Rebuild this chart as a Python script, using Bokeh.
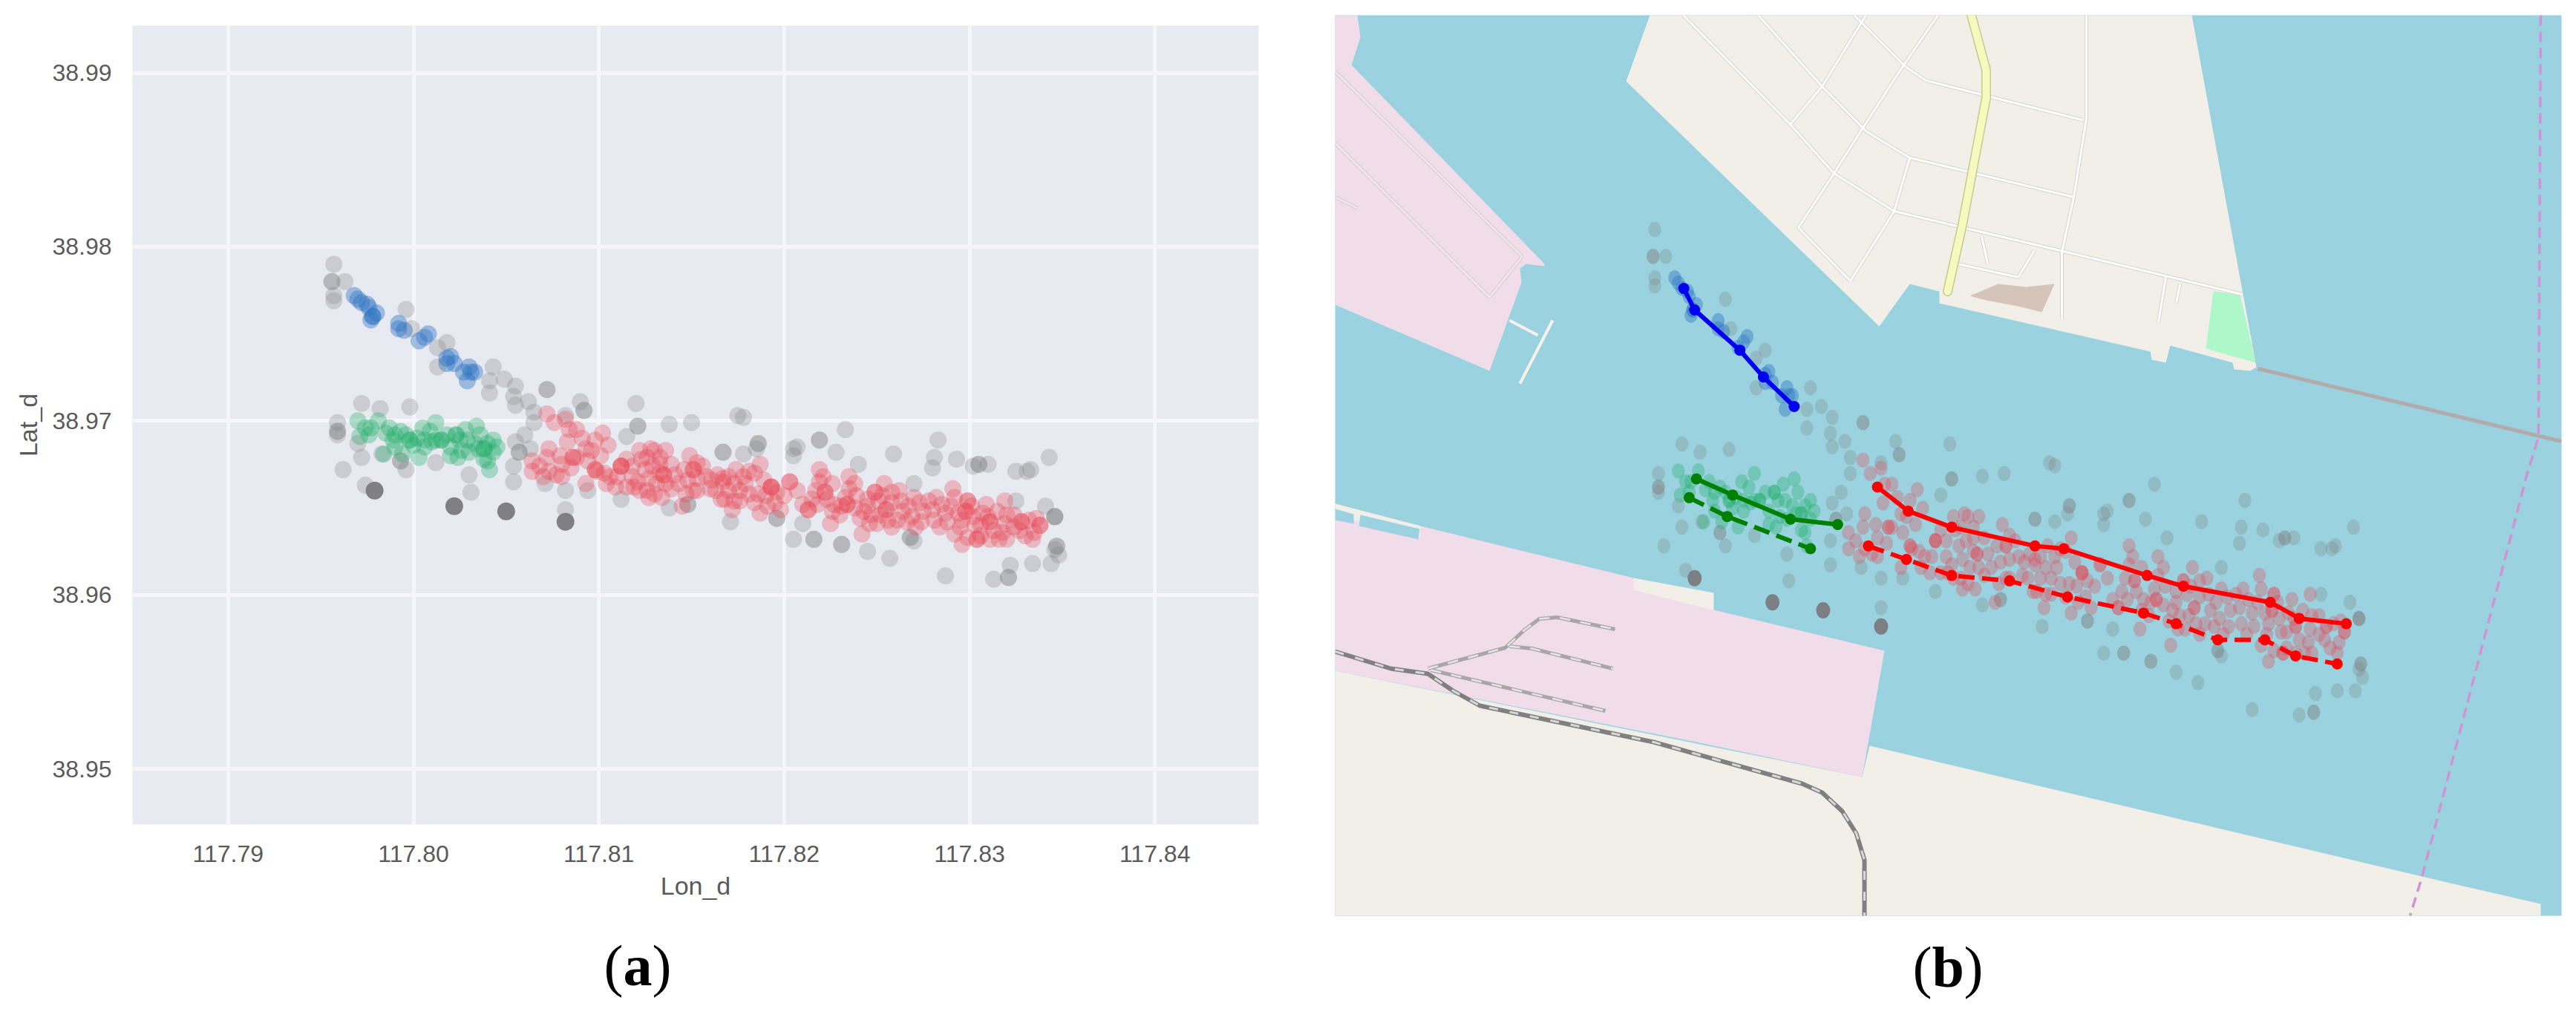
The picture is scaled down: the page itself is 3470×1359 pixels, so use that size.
from bokeh.embed import file_html
from bokeh.resources import INLINE
from bokeh.plotting import figure
from bokeh.layouts import row, column
from bokeh.core.properties import value
from bokeh.models import Range1d, FixedTicker, NumeralTickFormatter

# ---------- tick labels ----------
lon_ticks = [117.79, 117.80, 117.81, 117.82, 117.83, 117.84]
lat_ticks = [38.95, 38.96, 38.97, 38.98, 38.99]

# ---------- noise points (grey) ----------
grey_lon = [117.7957,117.7956,117.7956,117.7963,117.7957,117.7957,117.7996,117.7999,117.8018,117.8013,117.8013,117.8043,
 117.8049,117.8041,117.8041,117.8055,117.8054,117.8055,117.8062,117.8072,117.8072,117.8065,117.8065,117.8060,117.8055,
 117.8057,117.8057,117.8063,117.8090,117.8092,117.8092,117.8082,117.8120,117.8121,117.8121,117.8115,117.8138,117.8150,
 117.8175,117.8167,117.8167,117.7972,117.7982,117.7998,117.7959,117.7959,117.7959,117.7959,117.7970,117.7972,117.7983,
 117.7993,117.7993,117.7996,117.8012,117.8030,117.8031,117.8054,117.8054,117.7962,117.7974,117.8071,117.8082,117.8094,
 117.8112,117.8138,117.8148,117.8148,117.8171,117.8082,
 117.8178,117.8186,117.8186,117.8185,117.8178,117.8205,117.8207,117.8205,117.8219,117.8219,117.8233,117.8228,117.8240,
 117.8259,117.8283,117.8281,117.8280,117.8293,117.8302,117.8305,117.8305,117.8310,117.8325,117.8331,117.8333,117.8343,
 117.8270,117.8325,117.8341,117.8346,117.8346,117.8346,117.8347,117.8347,117.8346,117.8348,117.8196,117.8196,117.8210,
 117.8205,117.8216,117.8216,117.8231,117.8231,117.8245,117.8257,117.8268,117.8268,117.8270,117.8287,117.8313,117.8321,
 117.8321,117.8322,117.8334,117.8344]
grey_lat = [38.9790,38.9780,38.9780,38.9780,38.9772,38.9769,38.9764,38.9753,38.9745,38.9742,38.9731,38.9731,
 38.9724,38.9723,38.9716,38.9720,38.9714,38.9709,38.9711,38.9718,38.9718,38.9705,38.9699,38.9692,38.9688,
 38.9682,38.9682,38.9684,38.9711,38.9706,38.9706,38.9703,38.9710,38.9697,38.9697,38.9691,38.9698,38.9699,
 38.9703,38.9682,38.9682,38.9710,38.9707,38.9708,38.9699,38.9694,38.9694,38.9692,38.9687,38.9679,38.9681,
 38.9677,38.9677,38.9672,38.9676,38.9669,38.9659,38.9674,38.9665,38.9672,38.9663,38.9664,38.9660,38.9660,
 38.9655,38.9650,38.9652,38.9652,38.9642,38.9649,
 38.9702,38.9687,38.9687,38.9684,38.9681,38.9684,38.9685,38.9680,38.9689,38.9689,38.9695,38.9682,38.9675,
 38.9681,38.9689,38.9679,38.9673,38.9678,38.9674,38.9675,38.9675,38.9675,38.9671,38.9671,38.9672,38.9679,
 38.9664,38.9654,38.9651,38.9645,38.9645,38.9645,38.9628,38.9628,38.9626,38.9623,38.9644,38.9644,38.9641,
 38.9632,38.9632,38.9632,38.9629,38.9629,38.9625,38.9621,38.9633,38.9633,38.9631,38.9611,38.9609,38.9610,
 38.9610,38.9617,38.9618,38.9618]

# ---------- dark points ----------
dark_lon = [117.7979, 117.8022, 117.8050, 117.8082]
dark_lat = [38.9660, 38.9651, 38.9648, 38.9642]

# ---------- red cluster ----------
red_lon = [117.8072,117.8076,117.8082,117.8088,117.8084,117.8102,117.8098,117.8105,117.8073,117.8072,117.8064,117.8064,
 117.8073,117.8077,117.8086,117.8086,117.8088,117.8093,117.8096,117.8098,117.8098,117.8099,117.8104,117.8112,117.8112,
 117.8112,117.8122,117.8123,117.8125,117.8121,117.8122,117.8130,117.8136,117.8129,117.8135,117.8135,117.8131,117.8136,
 117.8130,117.8149,117.8151,117.8151,117.8153,117.8156,117.8151,117.8145,117.8167,117.8167,117.8173,117.8173,117.8168,
 117.8174,117.8176,117.8127,117.8133,117.8141,117.8118,117.8093,117.8109,
 117.8181,117.8187,117.8189,117.8181,117.8193,117.8193,117.8193,117.8186,117.8203,117.8203,117.8191,117.8198,117.8219,
 117.8219,117.8222,117.8222,117.8223,117.8213,117.8213,117.8225,117.8235,117.8235,117.8234,117.8234,117.8231,117.8243,
 117.8249,117.8249,117.8254,117.8258,117.8251,117.8255,117.8255,117.8263,117.8267,117.8250,117.8246,117.8242,117.8258,
 117.8266,117.8282,117.8280,117.8284,117.8291,117.8290,117.8299,117.8299,117.8298,117.8298,117.8295,117.8296,117.8304,
 117.8304,117.8311,117.8311,117.8316,117.8310,117.8319,117.8328,117.8328,117.8338,117.8338,117.8334,117.8324,117.8275,
 117.8271,117.8306,117.8319,117.8302,117.8320,117.8311,
 117.8179,117.8184,117.8190,117.8184,117.8196,117.8200,117.8187,117.8195,117.8207,117.8210,117.8215,117.8217,117.8226,
 117.8221,117.8227,117.8218,117.8226,117.8233,117.8238,117.8239,117.8238,117.8230,117.8245,117.8245,117.8241,117.8247,
 117.8253,117.8258,117.8252,117.8256,117.8262,117.8264,117.8261,117.8270,117.8273,117.8269,117.8274,117.8278,117.8285,
 117.8287,117.8281,117.8288,117.8292,117.8294,117.8292,117.8296,117.8301,117.8303,117.8299,117.8307,117.8309,117.8306,
 117.8313,117.8315,117.8318,117.8320,117.8324,117.8327,117.8332,117.8335,117.8336,117.8330,
 117.8068,117.8070,117.8080,117.8079,117.8080,117.8085,117.8083,117.8091,117.8094,117.8101,117.8103,117.8106,117.8110,
 117.8115,117.8118,117.8119,117.8115,117.8126,117.8126,117.8128,117.8133,117.8133,117.8127,117.8134,117.8139,117.8139,
 117.8143,117.8146,117.8148,117.8147,117.8153,117.8153,117.8158,117.8161,117.8160,117.8164,117.8163,117.8170,117.8170,
 117.8166,117.8178,117.8176,117.8172]
red_lat = [38.9704,38.9699,38.9701,38.9695,38.9695,38.9693,38.9689,38.9686,38.9684,38.9679,38.9677,38.9671,
 38.9671,38.9669,38.9679,38.9679,38.9679,38.9684,38.9683,38.9672,38.9672,38.9671,38.9664,38.9674,38.9674,
 38.9674,38.9683,38.9678,38.9672,38.9665,38.9660,38.9683,38.9683,38.9674,38.9669,38.9669,38.9664,38.9664,
 38.9658,38.9680,38.9672,38.9672,38.9667,38.9674,38.9660,38.9651,38.9667,38.9665,38.9664,38.9654,38.9655,
 38.9672,38.9660,38.9667,38.9675,38.9669,38.9668,38.9664,38.9662,
 38.9671,38.9675,38.9666,38.9658,38.9662,38.9662,38.9662,38.9658,38.9665,38.9665,38.9651,38.9649,38.9672,
 38.9665,38.9659,38.9659,38.9655,38.9649,38.9649,38.9641,38.9668,38.9661,38.9652,38.9652,38.9651,38.9648,
 38.9659,38.9659,38.9664,38.9659,38.9654,38.9649,38.9649,38.9654,38.9651,38.9641,38.9641,38.9635,38.9639,
 38.9642,38.9656,38.9649,38.9639,38.9661,38.9651,38.9654,38.9654,38.9648,38.9648,38.9639,38.9629,38.9632,
 38.9632,38.9642,38.9642,38.9632,38.9645,38.9654,38.9642,38.9642,38.9640,38.9640,38.9632,38.9639,38.9648,
 38.9639,38.9634,38.9641,38.9645,38.9632,38.9632,
 38.9664,38.9670,38.9657,38.9653,38.9659,38.9657,38.9647,38.9653,38.9660,38.9652,38.9655,38.9660,38.9664,
 38.9668,38.9652,38.9652,38.9648,38.9656,38.9664,38.9657,38.9650,38.9646,38.9655,38.9651,38.9644,38.9646,
 38.9657,38.9653,38.9646,38.9643,38.9660,38.9648,38.9643,38.9656,38.9653,38.9645,38.9642,38.9654,38.9652,
 38.9647,38.9643,38.9642,38.9656,38.9647,38.9635,38.9643,38.9651,38.9640,38.9633,38.9647,38.9652,38.9640,
 38.9637,38.9648,38.9636,38.9646,38.9646,38.9637,38.9643,38.9636,38.9644,38.9634,
 38.9674,38.9668,38.9675,38.9680,38.9668,38.9673,38.9688,38.9690,38.9677,38.9680,38.9670,38.9668,38.9668,
 38.9678,38.9674,38.9662,38.9662,38.9660,38.9679,38.9684,38.9679,38.9670,38.9656,38.9656,38.9675,38.9661,
 38.9664,38.9672,38.9666,38.9658,38.9676,38.9660,38.9668,38.9666,38.9661,38.9669,38.9660,38.9668,38.9660,
 38.9655,38.9668,38.9654,38.9649]

# ---------- green cluster ----------
green_lon = [117.7970,117.7974,117.7981,117.7976,117.7987,117.7990,117.7998,117.7998,117.8002,117.8005,117.8012,117.8015,
 117.8015,117.8023,117.8023,117.8025,117.8024,117.8020,117.8034,117.8033,117.8038,117.8038,117.8043,117.8043,117.8038,
 117.8041,117.8003,117.7984,117.7994,117.8012,117.7989,117.8009,117.8029,117.8035,117.8040,117.7971,
 117.7977,117.7985,117.7993,117.7996,117.8000,117.8006,117.8006,117.8010,117.8018,117.8020,117.8026,117.8030,117.8036,
 117.8040,117.8045,117.8028,117.7990]
green_lat = [38.9700,38.9696,38.9700,38.9692,38.9696,38.9692,38.9689,38.9689,38.9690,38.9696,38.9699,38.9689,
 38.9689,38.9692,38.9692,38.9689,38.9679,38.9680,38.9697,38.9687,38.9684,38.9684,38.9689,38.9682,38.9678,
 38.9672,38.9679,38.9681,38.9681,38.9689,38.9689,38.9694,38.9689,38.9684,38.9687,38.9691,
 38.9696,38.9693,38.9694,38.9692,38.9686,38.9689,38.9685,38.9688,38.9692,38.9685,38.9683,38.9682,38.9692,
 38.9677,38.9685,38.9695,38.9685]

# ---------- blue cluster ----------
blue_lon = [117.7968,117.7970,117.7975,117.7976,117.7978,117.7978,117.7977,117.7992,117.7992,117.8003,117.8008,117.8018,
 117.8018,117.8022,117.8030,117.8031,117.8029,117.8033,117.7972,117.7980,117.7995,117.8006,117.8020,117.8027]
blue_lat = [38.9772,38.9770,38.9767,38.9765,38.9760,38.9760,38.9758,38.9756,38.9753,38.9746,38.9750,38.9736,
 38.9733,38.9733,38.9731,38.9728,38.9723,38.9728,38.9768,38.9762,38.9752,38.9748,38.9737,38.9728]

# ---------- tracks on map ----------
blue_track_lon = [117.7973,117.7979,117.8004,117.8017,117.8034]
blue_track_lat = [38.9768,38.9760,38.9745,38.9735,38.9724]
green_solid_lon = [117.7980,117.8000,117.8032,117.8058]
green_solid_lat = [38.9697,38.9691,38.9682,38.9680]
green_dash_lon = [117.7976,117.7997,117.8043]
green_dash_lat = [38.9690,38.9683,38.9671]
red_solid_lon = [117.8080,117.8097,117.8121,117.8167,117.8183,117.8229,117.8249,117.8297,117.8313,117.8339]
red_solid_lat = [38.9694,38.9685,38.9679,38.9672,38.9671,38.9661,38.9657,38.9651,38.9645,38.9643]
red_dash_lon = [117.8075,117.8096,117.8121,117.8153,117.8185,117.8227,117.8245,117.8268,117.8294,117.8311,117.8334]
red_dash_lat = [38.9672,38.9667,38.9661,38.9659,38.9653,38.9647,38.9643,38.9637,38.9637,38.9631,38.9628]

# ---------- base map outlines, in the map panel's own picture coordinates ----------
pink_nw_x = [1798,1828,1832,1820,2080,2080,2055,2047,2049,2006,1798]
pink_nw_y = [20,20,50,87,355,358,355,361,380,499,410]
land_n_x = [2190,2222,2952,3039,3031,3009,3007,2923,2917,2898,2896,2612,2612,2572,2531]
land_n_y = [109,20,20,494,499,497,488,465,488,484,473,408,392,382,439]
park_x = [2981,3017,3038,2971]
park_y = [392,396,488,469]
blob_x = [2653,2691,2729,2767,2750,2718,2675]
blob_y = [398,382,386,382,420,412,404]
pink_s_x = [1798,1913,2200,2308,2538,2508,2280,1798]
pink_s_y = [678,708,778,821,876,1046,998,903]
land_s_x = [1798,2508,2518,3300,3422,3422,1798]
land_s_y = [903,1046,1004,1189,1217,1233,1233]
strip_x = [2200,2308,2308,2200]
strip_y = [778,798,821,794]
wharf_x = [1798,1913,1913,1798]
wharf_y = [678,708,723,693]
basin1_x = [1798,1823,1823,1798]
basin1_y = [685,692,705,700]
basin2_x = [1832,1912,1910,1830]
basin2_y = [693,712,726,708]
roads_x = [[2267,2411,2470,2551,2783,3020],[2368,2454,2513,2572,2793],[2497,2567,2594,2804],
           [2610,2562,2508,2470,2422,2492],[2513,2454,2411],[2572,2551,2492],[2810,2810,2793,2777,2777],
           [2637,2718,2740],[2669,2677],[2917,2907],[2936,2931]]
roads_y = [[20,167,233,284,339,396],[20,116,176,212,265],[20,90,108,161],
           [20,90,173,233,306,378],[20,116,167],[212,284,378],[20,159,265,339,429],
           [355,373,337],[318,355],[373,433],[382,408]]
dock_roads_x = [[1798,2050,2006,1798],[1798,1828]]
dock_roads_y = [[96,345,400,192],[265,280]]
yellow_x = [2655,2675,2675,2643,2623]
yellow_y = [20,94,131,302,392]
rail_x = [1798,1873,1923,1957,1993,2227,2427,2454,2481,2500,2511,2511]
rail_y = [877,900,907,930,950,999,1055,1067,1092,1122,1158,1233]
sidings_x = [[1923,2027,2053,2073,2097,2175],[2033,2063,2172],[1927,2162]]
sidings_y = [[900,872,848,833,831,847],[870,873,900],[902,957]]
grey_rail_x = [3041,3450]
grey_rail_y = [496,594]
border_x = [3422,3419,3403,3262,3246]
border_y = [20,588,640,1181,1233]
pier_x = [[2033,2071],[2091,2047]]
pier_y = [[431,451],[431,516]]

# ---------- captions ----------
cap_open = ["(", "("]
cap_letter = ["a", "b"]
cap_close = [")", ")"]
cap_open_x = [813, 2576]
cap_letter_x = [839, 2602]
cap_close_x = [878, 2645]
cap_y = [60, 62]

FONT = "Liberation Sans"
TXT = "#5a5a5a"
GREY = "#7f7f7f"
DARK = "#808084"
RED = "#e8434f"
GREEN = "#1fae66"
BLUE = "#2f74c4"
LAND = "#F2EFE9"
PINK = "#F1DDEA"
WATER = "#9AD3DF"
S = 23

# ---------- panel (a) ----------
a = figure(width=1790, height=1240, output_backend="svg", toolbar_location=None,
           x_range=Range1d(117.78484, 117.84560), y_range=Range1d(38.94681, 38.99271),
           x_axis_label="Lon_d", y_axis_label="Lat_d",
           min_border_left=178, min_border_right=95, min_border_top=34, min_border_bottom=130,
           background_fill_color="#E8EAF2", border_fill_color="white", outline_line_color=None)
a.frame_align = False
a.xaxis.ticker = FixedTicker(ticks=lon_ticks)
a.yaxis.ticker = FixedTicker(ticks=lat_ticks)
a.xaxis.formatter = NumeralTickFormatter(format="0.00")
a.yaxis.formatter = NumeralTickFormatter(format="0.00")
for ax in (a.xaxis[0], a.yaxis[0]):
    ax.axis_line_color = None
    ax.major_tick_line_color = None
    ax.minor_tick_line_color = None
    ax.major_label_text_font = FONT
    ax.major_label_text_font_size = "32px"
    ax.major_label_text_color = TXT
    ax.axis_label_text_font = FONT
    ax.axis_label_text_font_size = "34px"
    ax.axis_label_text_font_style = "normal"
    ax.axis_label_text_color = TXT
a.xaxis.major_label_standoff = 22
a.yaxis.major_label_standoff = 22
a.xaxis.axis_label_standoff = 10
a.yaxis.axis_label_standoff = 10
a.grid.grid_line_color = "#F5F6FA"
a.grid.grid_line_width = 5

a.scatter(grey_lon, grey_lat, size=S, color=GREY, alpha=0.27, line_color=None)
a.scatter(red_lon, red_lat, size=S, color=RED, alpha=0.3, line_color=None)
a.scatter(green_lon, green_lat, size=S, color=GREEN, alpha=0.33, line_color=None)
a.scatter(blue_lon, blue_lat, size=S, color=BLUE, alpha=0.42, line_color=None)
a.scatter(dark_lon, dark_lat, size=24, color=DARK, alpha=1.0, line_color=None)

# ---------- panel (b) ----------
b = figure(width=1670, height=1240, output_backend="svg", toolbar_location=None,
           x_range=Range1d(117.77804, 117.84579), y_range=Range1d(38.95341, 38.98699),
           x_axis_type=None, y_axis_type=None,
           min_border_left=8, min_border_right=10, min_border_top=20, min_border_bottom=7,
           background_fill_color=WATER, border_fill_color="white", outline_line_color=None)
b.frame_align = False
b.grid.visible = False
b.extra_x_ranges = {"page": Range1d(1798, 3450)}
b.extra_y_ranges = {"page": Range1d(1233, 20)}
M = dict(x_range_name="page", y_range_name="page")

b.patch(land_n_x, land_n_y, color=LAND, line_color=None, **M)
b.patch(pink_nw_x, pink_nw_y, color=PINK, line_color=None, **M)
b.patch(land_s_x, land_s_y, color=LAND, line_color=None, **M)
b.patch(pink_s_x, pink_s_y, color=PINK, line_color=None, **M)
b.patch(strip_x, strip_y, color=LAND, line_color=None, **M)
b.patch(wharf_x, wharf_y, color=LAND, line_color=None, **M)
b.patch(basin1_x, basin1_y, color=WATER, line_color=None, **M)
b.patch(basin2_x, basin2_y, color=WATER, line_color=None, **M)
b.patch(park_x, park_y, color="#ADF7C9", line_color=None, **M)
b.patch(blob_x, blob_y, color="#D5C4BA", line_color=None, **M)
b.multi_line(roads_x, roads_y, line_color="#D6D3CF", line_width=5, **M)
b.multi_line(roads_x, roads_y, line_color="#FFFFFF", line_width=3, **M)
b.multi_line(dock_roads_x, dock_roads_y, line_color="#D5D0D3", line_width=5, **M)
b.multi_line(dock_roads_x, dock_roads_y, line_color="#F4E6EF", line_width=2.5, **M)
b.multi_line(pier_x, pier_y, line_color="#F6F2EA", line_width=4, **M)
b.line(yellow_x, yellow_y, line_color="#C9C98F", line_width=13, line_cap="round", **M)
b.line(yellow_x, yellow_y, line_color="#F7FABF", line_width=10, line_cap="round", **M)
b.line(grey_rail_x, grey_rail_y, line_color="#B2ABAB", line_width=5, **M)
b.line(border_x, border_y, line_color="#CF93D6", line_width=3.5, line_dash="14 8", **M)
b.multi_line(sidings_x, sidings_y, line_color="#A9A6A8", line_width=5, **M)
b.multi_line(sidings_x, sidings_y, line_color="#E8E5E6", line_width=2.5, line_dash="14 14", **M)
b.line(rail_x, rail_y, line_color="#808080", line_width=6, **M)
b.line(rail_x, rail_y, line_color="#D8D8D8", line_width=3, line_dash="12 16", **M)

E = dict(width=17.5, height=20.5, width_units="screen", height_units="screen", line_color=None)
b.ellipse(grey_lon, grey_lat, fill_color=GREY, fill_alpha=0.27, **E)
b.ellipse(red_lon, red_lat, fill_color=RED, fill_alpha=0.3, **E)
b.ellipse(green_lon, green_lat, fill_color=GREEN, fill_alpha=0.33, **E)
b.ellipse(blue_lon, blue_lat, fill_color=BLUE, fill_alpha=0.42, **E)
b.ellipse(dark_lon, dark_lat, fill_color="#7c7f84", width=19, height=22,
          width_units="screen", height_units="screen", line_color=None)

tracks = [(blue_track_lon, blue_track_lat, "#0000F0", "solid"),
          (green_solid_lon, green_solid_lat, "#008000", "solid"),
          (green_dash_lon, green_dash_lat, "#008000", "22 10"),
          (red_solid_lon, red_solid_lat, "#FF0000", "solid"),
          (red_dash_lon, red_dash_lat, "#FF0000", "22 10")]
for lon, lat, col, dash in tracks:
    b.line(lon, lat, line_color=col, line_width=6, line_dash=dash)
    b.scatter(lon, lat, size=15, color=col, line_color=None)

# ---------- caption strip ----------
cap = figure(width=3460, height=112, output_backend="svg", toolbar_location=None,
             x_range=Range1d(0, 3460), y_range=Range1d(112, 0),
             x_axis_type=None, y_axis_type=None,
             min_border_left=0, min_border_right=0, min_border_top=0, min_border_bottom=0,
             background_fill_color="white", border_fill_color="white", outline_line_color=None)
cap.frame_align = False
cap.grid.visible = False
T = dict(text_font=value("Liberation Serif"), text_font_size="78px", text_color="black",
         text_baseline="alphabetic", text_align="left")
cap.text(cap_open_x, cap_y, text=cap_open, **T)
cap.text(cap_letter_x, cap_y, text=cap_letter, text_font_style="bold", **T)
cap.text(cap_close_x, cap_y, text=cap_close, **T)

page = column(row(a, b, spacing=0), cap, spacing=0)
open("out.html", "w").write(file_html(page, INLINE))
